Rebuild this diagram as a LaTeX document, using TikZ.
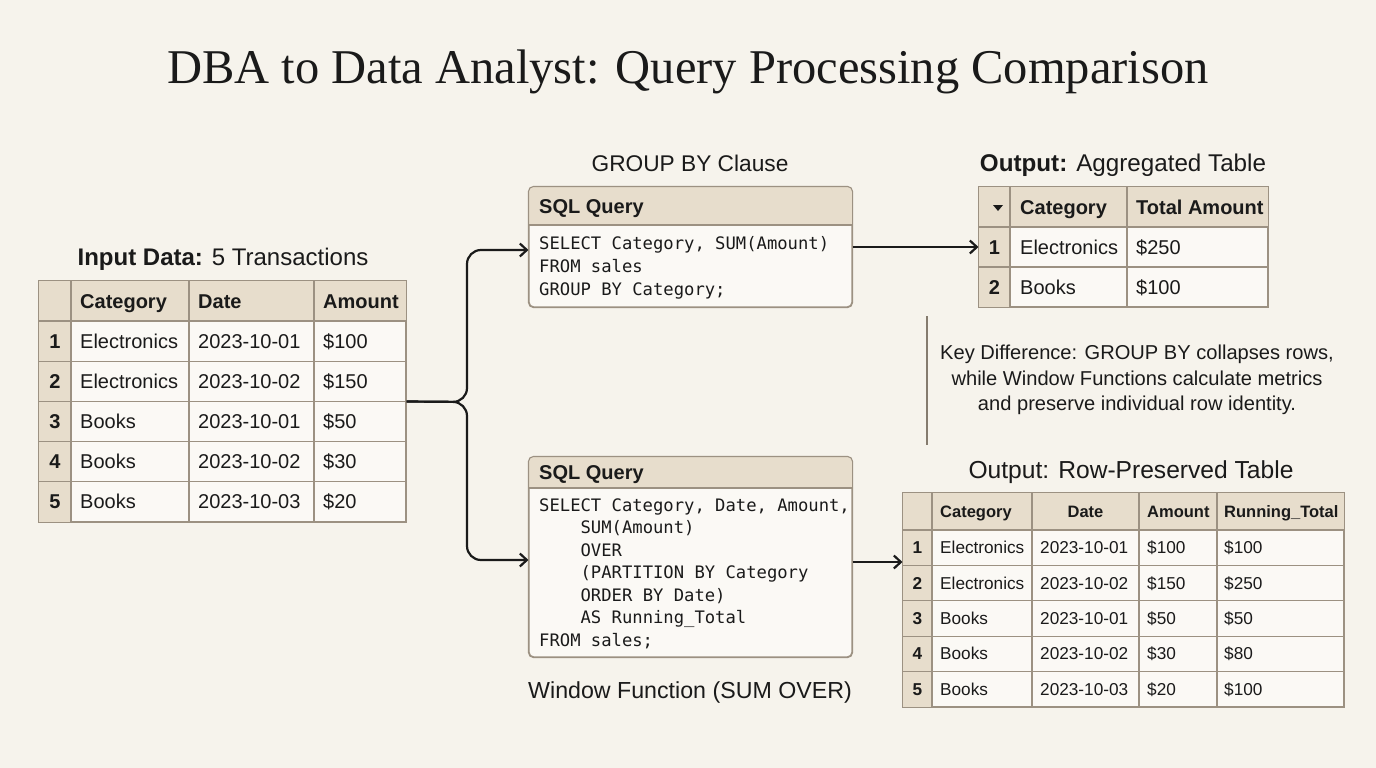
\documentclass[tikz,border=0pt]{standalone}
\usepackage{fontspec}
\setmainfont{Liberation Serif}
\setsansfont{Liberation Sans}
\setmonofont{DejaVu Sans Mono}
\usetikzlibrary{arrows.meta,calc}

\definecolor{paper}{HTML}{F6F3EC}
\definecolor{cellbg}{HTML}{FBF9F5}
\definecolor{headbg}{HTML}{E7DDCC}
\definecolor{rule}{HTML}{9C9182}
\definecolor{ink}{HTML}{1A1A1A}

\begin{document}
\begin{tikzpicture}[x=1pt, y=-1pt,
    gridline/.style={draw=rule, line width=1.1pt},
    tabframe/.style={draw=rule, fill=cellbg, line width=1.1pt, inner sep=0pt},
    qbox/.style={draw=rule, fill=cellbg, line width=1.1pt, rounded corners=5pt, inner sep=0pt},
    conn/.style={draw=ink, line width=2.2pt, -{Straight Barb[length=7pt, width=13pt]}},
    heading/.style={anchor=base, inner sep=0pt, text=ink, font=\sffamily\fontsize{#1}{26}\selectfont},
    heading/.default=23,
    hdtxt/.style={anchor=base west, inner sep=0pt, text=ink, font=\sffamily\bfseries\fontsize{20}{24}\selectfont},
    celltxt/.style={anchor=base west, inner sep=0pt, text=ink, font=\sffamily\fontsize{20}{24}\selectfont},
    idxtxt/.style={anchor=base, inner sep=0pt, text=ink, font=\sffamily\bfseries\fontsize{20}{24}\selectfont},
    smhdtxt/.style={hdtxt, font=\sffamily\bfseries\fontsize{16.5}{20}\selectfont},
    smcelltxt/.style={celltxt, font=\sffamily\fontsize{17.2}{20}\selectfont},
    smidxtxt/.style={idxtxt, font=\sffamily\bfseries\fontsize{17.2}{20}\selectfont},
    codetxt/.style={anchor=base west, inner sep=0pt, text=ink, font=\ttfamily\fontsize{17.2}{22}\selectfont}
  ]

    % page
    \fill[paper] (0,0) rectangle (1376,768);

    % title
    \node[anchor=base, inner sep=0pt, text=ink, font=\fontsize{48.5}{54}\selectfont] (title) at (688,83)
      {DBA to Data Analyst: Query Processing Comparison};

    % ---------------- input table ----------------
    \node[heading=24] (intitle) at (223,265) {\textbf{Input Data:} 5 Transactions};
    \node[tabframe, minimum width=367pt, minimum height=241pt] (intab) at (222.5,401.5) {};
    \fill[headbg] (39,281) rectangle (406,321);
    \fill[headbg] (39,321) rectangle (71,522);
    \foreach \yy in {321,361.2,401.4,441.6,481.8}
      \draw[gridline] (39,\yy) -- (406,\yy);
    \foreach \xx in {71,189,314}
      \draw[gridline] (\xx,281) -- (\xx,522);
    \draw[gridline] (intab.north west) rectangle (intab.south east);

    \node[hdtxt] (inh1) at (80,308) {Category};
    \node[hdtxt] (inh2) at (198,308) {Date};
    \node[hdtxt] (inh3) at (323,308) {Amount};
    \foreach \i/\cat/\dt/\amt in {1/Electronics/2023-10-01/100, 2/Electronics/2023-10-02/150,
        3/Books/2023-10-01/50, 4/Books/2023-10-02/30, 5/Books/2023-10-03/20} {
      \node[idxtxt]  (inn\i) at (55,{348+(\i-1)*40.2}) {\i};
      \node[celltxt] (inc\i) at (80,{348+(\i-1)*40.2}) {\cat};
      \node[celltxt] (ind\i) at (198,{348+(\i-1)*40.2}) {\dt};
      \node[celltxt] (ina\i) at (323,{348+(\i-1)*40.2}) {\$\amt};
    }

    % ---------------- GROUP BY query ----------------
    \node[heading=22.7] (gbtitle) at (690,171) {GROUP BY Clause};
    \node[qbox, minimum width=323pt, minimum height=120pt] (gbq) at (690.5,247) {};
    \begin{scope}
      \clip[rounded corners=5pt] (gbq.north west) rectangle (gbq.south east);
      \fill[headbg] (529,187) rectangle (852,225);
    \end{scope}
    \draw[gridline] (529,225) -- (852,225);
    \draw[gridline, rounded corners=5pt] (gbq.north west) rectangle (gbq.south east);
    \node[hdtxt] (gbhead) at (539,213) {SQL Query};
    \foreach \ln [count=\k] in {{SELECT Category, SUM(Amount)}, {FROM sales}, {GROUP BY Category;}}
      \node[codetxt] (gbl\k) at (539,{249.3+(\k-1)*23}) {\ln};

    % ---------------- window function query ----------------
    \node[qbox, minimum width=323pt, minimum height=200pt] (wfq) at (690.5,557) {};
    \begin{scope}
      \clip[rounded corners=5pt] (wfq.north west) rectangle (wfq.south east);
      \fill[headbg] (529,457) rectangle (852,488);
    \end{scope}
    \draw[gridline] (529,488) -- (852,488);
    \draw[gridline, rounded corners=5pt] (wfq.north west) rectangle (wfq.south east);
    \node[hdtxt] (wfhead) at (539,479.5) {SQL Query};
    \foreach \ln [count=\k] in {{SELECT Category, Date, Amount,},
        {\phantom{0000}SUM(Amount)}, {\phantom{0000}OVER},
        {\phantom{0000}(PARTITION BY Category}, {\phantom{0000}ORDER BY Date)},
        {\phantom{0000}AS Running\_Total}, {FROM sales;}}
      \node[codetxt] (wfl\k) at (539,{511.3+(\k-1)*22.5}) {\ln};
    \node[heading=23.2] (wftitle) at (690,698) {Window Function (SUM OVER)};

    % ---------------- aggregated output ----------------
    \node[heading=24.2] (agtitle) at (1123,171) {\textbf{Output:} Aggregated Table};
    \node[tabframe, minimum width=289pt, minimum height=120pt] (agtab) at (1123.5,247) {};
    \fill[headbg] (979,187) rectangle (1268,227);
    \fill[headbg] (979,227) rectangle (1010,307);
    \foreach \yy in {227,267}
      \draw[gridline] (979,\yy) -- (1268,\yy);
    \foreach \xx in {1010,1127}
      \draw[gridline] (\xx,187) -- (\xx,307);
    \draw[gridline] (agtab.north west) rectangle (agtab.south east);
    \fill[ink] (993,205) -- (1003,205) -- (998,211) -- cycle;
    \node[hdtxt] (agh1) at (1020,214) {Category};
    \node[hdtxt] (agh2) at (1136,214) {Total Amount};
    \foreach \i/\cat/\amt in {1/Electronics/250, 2/Books/100} {
      \node[idxtxt]  (agn\i) at (994.5,{254+(\i-1)*40}) {\i};
      \node[celltxt] (agc\i) at (1020,{254+(\i-1)*40}) {\cat};
      \node[celltxt] (aga\i) at (1136,{254+(\i-1)*40}) {\$\amt};
    }

    % ---------------- key difference note ----------------
    \draw[draw=rule!85!black, line width=1.3pt] (927,316) -- (927,445);
    \node[align=center, inner sep=0pt, text=ink, font=\sffamily\fontsize{20.1}{25.5}\selectfont] (keydiff) at (1137,380)
      {Key Difference: GROUP BY collapses rows,\\
       while Window Functions calculate metrics\\
       and preserve individual row identity.};

    % ---------------- row-preserved output ----------------
    \node[heading=24.6] (rptitle) at (1131,478) {Output: Row-Preserved Table};
    \node[tabframe, minimum width=441pt, minimum height=214pt] (rptab) at (1123.5,600) {};
    \fill[headbg] (903,493) rectangle (1344,530);
    \fill[headbg] (903,530) rectangle (932,707);
    \foreach \yy in {530,565.4,600.8,636.2,671.6}
      \draw[gridline] (903,\yy) -- (1344,\yy);
    \foreach \xx in {932,1032,1139,1217}
      \draw[gridline] (\xx,493) -- (\xx,707);
    \draw[gridline] (rptab.north west) rectangle (rptab.south east);
    \node[smhdtxt] (rph1) at (940,517.5) {Category};
    \node[smhdtxt, anchor=base] (rph2) at (1085.5,517.5) {Date};
    \node[smhdtxt] (rph3) at (1147,517.5) {Amount};
    \node[smhdtxt] (rph4) at (1224,517.5) {Running\_Total};
    \foreach \i/\cat/\dt/\amt/\run in {1/Electronics/2023-10-01/100/100, 2/Electronics/2023-10-02/150/250,
        3/Books/2023-10-01/50/50, 4/Books/2023-10-02/30/80, 5/Books/2023-10-03/20/100} {
      \node[smidxtxt]  (rpn\i) at (917.5,{553.7+(\i-1)*35.4}) {\i};
      \node[smcelltxt] (rpc\i) at (940,{553.7+(\i-1)*35.4}) {\cat};
      \node[smcelltxt] (rpd\i) at (1040,{553.7+(\i-1)*35.4}) {\dt};
      \node[smcelltxt] (rpa\i) at (1147,{553.7+(\i-1)*35.4}) {\$\amt};
      \node[smcelltxt] (rpr\i) at (1224,{553.7+(\i-1)*35.4}) {\$\run};
    }

    % ---------------- connectors ----------------
    \draw[conn, rounded corners=14pt] (intab.east) -- (467,402) -- (467,250) -- (gbq.west |- 0,250);
    \draw[conn, rounded corners=14pt] (intab.east) -- (467,402) -- (467,560) -- (wfq.west |- 0,560);
    \draw[conn] (gbq.east) -- (agtab.west);
    \draw[conn] (wfq.east |- 0,562) -- (rptab.west |- 0,562);

\end{tikzpicture}
\end{document}
